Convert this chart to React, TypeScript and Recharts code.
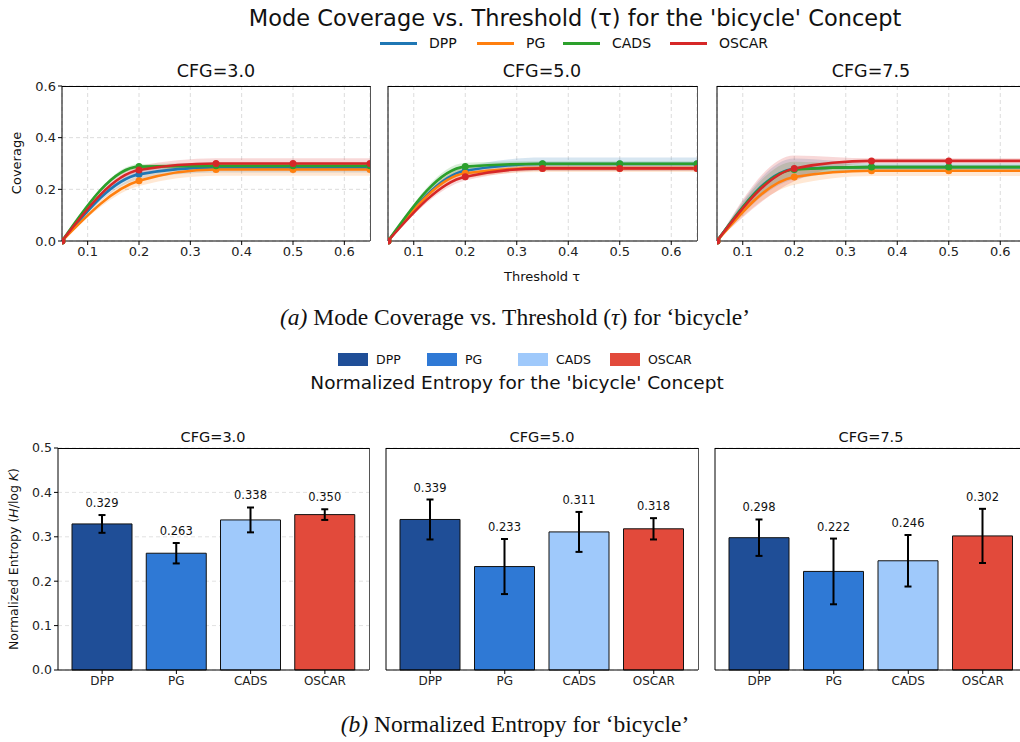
import React from "react";
import {
  ComposedChart,
  Line,
  Area,
  XAxis,
  YAxis,
  CartesianGrid,
  BarChart,
  Bar,
  Cell,
  ErrorBar,
  LabelList,
} from "recharts";

const METHODS = ["DPP", "PG", "CADS", "OSCAR"];
const LINE_COLORS = ["#1f77b4", "#ff7f0e", "#2ca02c", "#d62728"];
const BAR_COLORS = ["#1f4e97", "#2f79d5", "#9fc9fb", "#e24a3b"];
const CFG_LABELS = ["CFG=3.0", "CFG=5.0", "CFG=7.5"];

const TAU = [0.05, 0.2, 0.35, 0.5, 0.65];
const TAU_TICKS = [0.1, 0.2, 0.3, 0.4, 0.5, 0.6];
const COV_TICKS = [0, 0.2, 0.4, 0.6];
const ENT_TICKS = [0, 0.1, 0.2, 0.3, 0.4, 0.5];

// coverage means, rows = DPP, PG, CADS, OSCAR
const coverageCfg3 = [
  [0, 0.258, 0.285, 0.285, 0.285],
  [0, 0.233, 0.277, 0.277, 0.277],
  [0, 0.288, 0.291, 0.291, 0.291],
  [0, 0.275, 0.3, 0.3, 0.3],
];
const coverageCfg5 = [
  [0, 0.272, 0.298, 0.298, 0.298],
  [0, 0.262, 0.282, 0.282, 0.282],
  [0, 0.288, 0.299, 0.299, 0.299],
  [0, 0.249, 0.281, 0.281, 0.281],
];
const coverageCfg75 = [
  [0, 0.279, 0.286, 0.286, 0.286],
  [0, 0.248, 0.272, 0.272, 0.272],
  [0, 0.277, 0.286, 0.286, 0.286],
  [0, 0.281, 0.31, 0.31, 0.31],
];

// coverage std (shaded band)
const coverageStdCfg3 = [
  [0, 0.02, 0.02, 0.02, 0.02],
  [0, 0.02, 0.024, 0.024, 0.024],
  [0, 0.01, 0.01, 0.01, 0.01],
  [0, 0.015, 0.02, 0.02, 0.02],
];
const coverageStdCfg5 = [
  [0, 0.015, 0.025, 0.025, 0.025],
  [0, 0.02, 0.015, 0.015, 0.015],
  [0, 0.015, 0.01, 0.01, 0.01],
  [0, 0.015, 0.01, 0.01, 0.01],
];
const coverageStdCfg75 = [
  [0, 0.04, 0.015, 0.015, 0.015],
  [0, 0.03, 0.02, 0.02, 0.02],
  [0, 0.03, 0.01, 0.01, 0.01],
  [0, 0.05, 0.01, 0.01, 0.01],
];

// normalized entropy, in METHODS order
const entropyCfg3 = [0.329, 0.263, 0.338, 0.35];
const entropyCfg5 = [0.339, 0.233, 0.311, 0.318];
const entropyCfg75 = [0.298, 0.222, 0.246, 0.302];
const entropyErrCfg3 = [0.02, 0.023, 0.028, 0.012];
const entropyErrCfg5 = [0.045, 0.062, 0.045, 0.024];
const entropyErrCfg75 = [0.041, 0.074, 0.058, 0.061];

const FONT = "'DejaVu Sans', sans-serif";
const SERIF = "'Liberation Serif', 'Times New Roman', serif";

function Txt({ x, y, size, children, rotate, family }: any) {
  return (
    <div
      style={{
        position: "absolute",
        left: x,
        top: y,
        transform: `translate(-50%, -50%)${rotate ? ` rotate(${rotate}deg)` : ""}`,
        fontSize: size,
        fontFamily: family || FONT,
        color: "#111",
        whiteSpace: "nowrap",
        lineHeight: 1,
      }}
    >
      {children}
    </div>
  );
}

// top + right spines of a matplotlib-style box
function Frame({ x1, x2, y1, y2 }: any) {
  return (
    <div
      style={{
        position: "absolute",
        left: x1,
        top: y1,
        width: x2 - x1,
        height: y2 - y1,
        borderTop: "1px solid #000",
        borderRight: "1px solid #555",
        boxSizing: "border-box",
        pointerEvents: "none",
      }}
    />
  );
}

function coverageRows(means: number[][], stds: number[][]) {
  return TAU.map((t, i) => {
    const row: any = { tau: t };
    METHODS.forEach((m, k) => {
      row[m] = means[k][i];
      row[m + "_band"] = [means[k][i] - stds[k][i], means[k][i] + stds[k][i]];
    });
    return row;
  });
}

const tickStyle = { fontSize: 13, fill: "#222", fontFamily: FONT };

function CoveragePanel({ means, stds, left, width, yw, showY }: any) {
  const data = coverageRows(means, stds);
  return (
    <div style={{ position: "absolute", left, top: 60 }}>
      <ComposedChart
        width={width}
        height={211}
        data={data}
        margin={{ top: 26, right: 10, bottom: 0, left: 0 }}
      >
        <CartesianGrid stroke="#dcdcdc" strokeDasharray="4 3" />
        <XAxis
          dataKey="tau"
          type="number"
          domain={[0.05, 0.65]}
          ticks={TAU_TICKS}
          allowDataOverflow
          tickFormatter={(v: number) => v.toFixed(1)}
          tick={tickStyle}
          tickSize={4}
          height={30}
          stroke="#000"
        />
        <YAxis
          domain={[0, 0.6]}
          ticks={COV_TICKS}
          tickFormatter={(v: number) => v.toFixed(1)}
          tick={showY ? tickStyle : false}
          tickSize={4}
          width={yw}
          stroke="#000"
        />
        {METHODS.map((m, k) => (
          <Area
            key={m + "a"}
            dataKey={m + "_band"}
            type="monotone"
            fill={LINE_COLORS[k]}
            fillOpacity={0.18}
            stroke="none"
            isAnimationActive={false}
          />
        ))}
        {METHODS.map((m, k) => (
          <Line
            key={m}
            dataKey={m}
            type="monotone"
            stroke={LINE_COLORS[k]}
            strokeWidth={2.6}
            dot={{ r: 3.5, fill: LINE_COLORS[k], stroke: LINE_COLORS[k], strokeWidth: 0 }}
            isAnimationActive={false}
          />
        ))}
      </ComposedChart>
    </div>
  );
}

function valueLabel(errs: number[]) {
  return (props: any) => {
    const { x, y, width, height, value, index } = props;
    const perUnit = height / value;
    const top = y - errs[index] * perUnit;
    return (
      <text
        x={x + width / 2}
        y={top - 8}
        textAnchor="middle"
        fontSize={11.5}
        fontFamily={FONT}
        fill="#111"
      >
        {Number(value).toFixed(3)}
      </text>
    );
  };
}

function EntropyPanel({ values, errs, left, width, yw, showY }: any) {
  const data = METHODS.map((m, i) => ({ method: m, value: values[i], err: errs[i] }));
  return (
    <div style={{ position: "absolute", left, top: 420 }}>
      <BarChart
        width={width}
        height={280}
        data={data}
        margin={{ top: 28, right: 10, bottom: 0, left: 0 }}
      >
        <CartesianGrid stroke="#e2e2e2" strokeDasharray="4 3" vertical={false} />
        <XAxis
          dataKey="method"
          padding={{ left: 7, right: 7 }}
          tick={{ fontSize: 12, fill: "#222", fontFamily: FONT }}
          tickSize={4}
          height={30}
          stroke="#000"
        />
        <YAxis
          domain={[0, 0.5]}
          ticks={ENT_TICKS}
          tickFormatter={(v: number) => v.toFixed(1)}
          tick={showY ? { fontSize: 12.5, fill: "#222", fontFamily: FONT } : false}
          tickSize={4}
          width={yw}
          stroke="#000"
        />
        <Bar dataKey="value" barSize={60} stroke="#111" strokeWidth={1} isAnimationActive={false}>
          {data.map((d, i) => (
            <Cell key={d.method} fill={BAR_COLORS[i]} />
          ))}
          <ErrorBar dataKey="err" width={3.5} strokeWidth={2} stroke="#000" direction="y" />
          <LabelList dataKey="value" content={valueLabel(errs)} />
        </Bar>
      </BarChart>
    </div>
  );
}

const LINE_LEG_X = [380, 477, 563, 670];
const BAR_LEG_X = [338, 427, 518, 610];

export default function App() {
  return (
    <div
      style={{
        position: "absolute",
        left: 0,
        top: 0,
        width: 1020,
        height: 742,
        overflow: "hidden",
        background: "#fff",
      }}
    >
      <Txt x={575} y={18} size={22.5}>
        Mode Coverage vs. Threshold (τ) for the 'bicycle' Concept
      </Txt>
      {METHODS.map((m, k) => (
        <div
          key={m}
          style={{
            position: "absolute",
            left: LINE_LEG_X[k],
            top: 35,
            height: 16,
            display: "flex",
            alignItems: "center",
            fontFamily: FONT,
            fontSize: 14,
            color: "#111",
          }}
        >
          <span style={{ width: 37, height: 3, background: LINE_COLORS[k], marginRight: 12 }} />
          {m}
        </div>
      ))}
      {CFG_LABELS.map((c, i) => (
        <Txt key={c} x={[216, 542, 871][i]} y={72} size={17.5}>
          {c}
        </Txt>
      ))}
      <Txt x={16} y={163} size={13} rotate={-90}>
        Coverage
      </Txt>
      <Txt x={542} y={276} size={13}>
        Threshold τ
      </Txt>

      <CoveragePanel means={coverageCfg3} stds={coverageStdCfg3} left={0} width={380} yw={62} showY />
      <CoveragePanel means={coverageCfg5} stds={coverageStdCfg5} left={380} width={327} yw={8} />
      <CoveragePanel means={coverageCfg75} stds={coverageStdCfg75} left={707} width={329} yw={10} />
      <Frame x1={62} x2={371} y1={86} y2={241} />
      <Frame x1={388} x2={698} y1={86} y2={241} />
      <Frame x1={717} x2={1027} y1={86} y2={241} />

      <Txt x={515} y={318} size={23.5} family={SERIF}>
        <i>(a)</i> Mode Coverage vs. Threshold (<i>τ</i>) for ‘bicycle’
      </Txt>

      {METHODS.map((m, k) => (
        <div
          key={m + "b"}
          style={{
            position: "absolute",
            left: BAR_LEG_X[k],
            top: 352,
            height: 14,
            display: "flex",
            alignItems: "center",
            fontFamily: FONT,
            fontSize: 12.5,
            color: "#111",
          }}
        >
          <span style={{ width: 30, height: 13, background: BAR_COLORS[k], marginRight: 8 }} />
          {m}
        </div>
      ))}
      <Txt x={517} y={383} size={18.5}>
        Normalized Entropy for the 'bicycle' Concept
      </Txt>
      {CFG_LABELS.map((c, i) => (
        <Txt key={c + "b"} x={[213, 542, 871][i]} y={437} size={14.5}>
          {c}
        </Txt>
      ))}
      <Txt x={14} y={559} size={12.5} rotate={-90}>
        Normalized Entropy (<i>H</i>/log <i>K</i>)
      </Txt>

      <EntropyPanel values={entropyCfg3} errs={entropyErrCfg3} left={0} width={379} yw={58} showY />
      <EntropyPanel values={entropyCfg5} errs={entropyErrCfg5} left={376} width={332} yw={10} />
      <EntropyPanel values={entropyCfg75} errs={entropyErrCfg75} left={705} width={332} yw={10} />
      <Frame x1={58} x2={370} y1={448} y2={670} />
      <Frame x1={386} x2={699} y1={448} y2={670} />
      <Frame x1={715} x2={1028} y1={448} y2={670} />

      <Txt x={515} y={725} size={23.5} family={SERIF}>
        <i>(b)</i> Normalized Entropy for ‘bicycle’
      </Txt>
    </div>
  );
}
